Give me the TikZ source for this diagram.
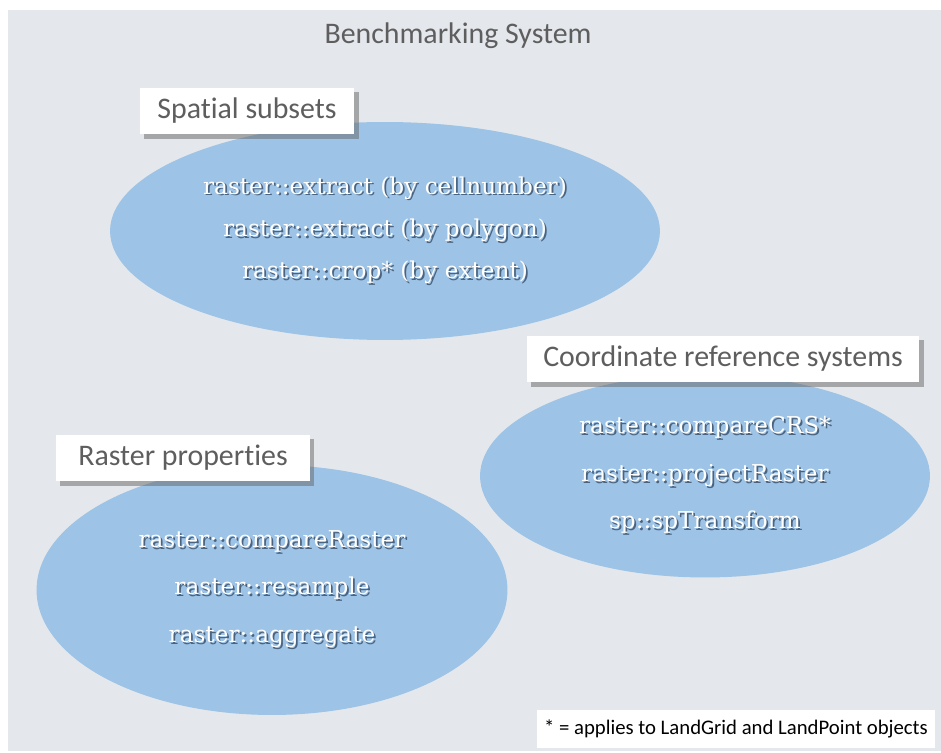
\documentclass[tikz,border=0pt]{standalone}
\usepackage{fontspec}
\setmainfont{Carlito}[Ligatures=NoCommon]
\newfontfamily\typefont{DejaVu Serif}
\usetikzlibrary{shapes.geometric, shadows}
\definecolor{panelgray}{HTML}{E4E8EC}
\definecolor{blobblue}{HTML}{9DC3E6}
\definecolor{labelgray}{HTML}{5E5E5E}
\definecolor{shadeblue}{HTML}{4A6480}
\newcommand{\shtext}[1]{\makebox[0pt][l]{\hspace{1pt}\raisebox{-1pt}{\textcolor{shadeblue}{#1}}}#1}

\begin{document}
\begin{tikzpicture}[x=0.02cm, y=-0.02cm,
  blob/.style={ellipse, fill=blobblue, inner sep=0pt, text=white, align=center,
    font=\typefont\fontsize{13.2}{#1}\selectfont},
  tag/.style={fill=white, text=labelgray, inner sep=0pt, font=\fontsize{17}{20}\selectfont,
    minimum height=0.94cm, drop shadow={shadow xshift=2.5pt, shadow yshift=-2.5pt, opacity=0.5, fill=black!60}}]
\useasboundingbox (0,0) rectangle (941,753);
\fill [panelgray] (8,10) rectangle (941,751);
\node (title) at (458,36) [text=labelgray, font=\fontsize{17}{20}\selectfont] {Benchmarking System};

\node (spatial) at (385,231) [blob=24, minimum width=11cm, minimum height=4.36cm]
  {\shtext{raster::extract (by cellnumber)}\\\shtext{raster::extract (by polygon)}\\\shtext{raster::crop* (by extent)}};
\node (crs) at (705,476) [blob=27, minimum width=9cm, minimum height=4.06cm]
  {\shtext{raster::compareCRS*}\\\shtext{raster::projectRaster}\\\shtext{sp::spTransform}};
\node (props) at (272,590) [blob=27, minimum width=9.42cm, minimum height=5cm]
  {\shtext{raster::compareRaster}\\\shtext{raster::resample}\\\shtext{raster::aggregate}};

\node (spatialtag) at (247,111) [tag, minimum width=4.3cm] {Spatial subsets};
\node (crstag) at (723,359) [tag, minimum width=7.86cm] {Coordinate reference systems};
\node (propstag) at (183,458) [tag, minimum width=5.08cm] {Raster properties};
\node (note) at (736,729) [fill=white, inner sep=0pt, minimum width=7.96cm, minimum height=0.76cm,
  font=\fontsize{11.8}{14}\selectfont] {* = applies to LandGrid and LandPoint objects};
\end{tikzpicture}
\end{document}
